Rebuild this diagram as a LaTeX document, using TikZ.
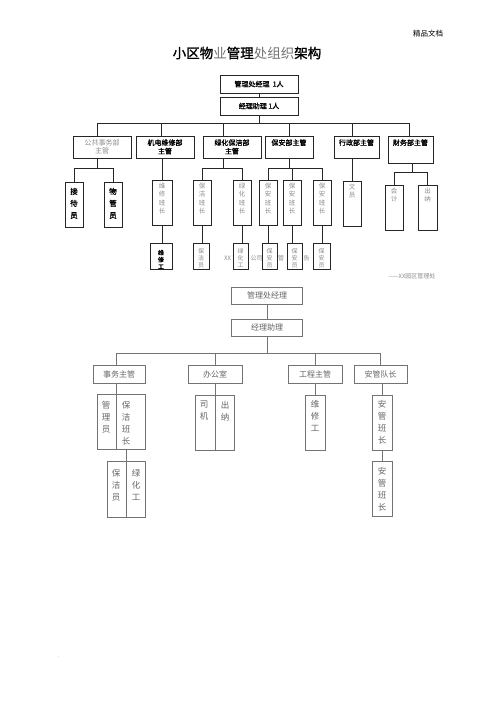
\documentclass[tikz,border=0pt]{standalone}
\usepackage{fontspec}
\newfontfamily\cjk{Noto Sans CJK SC}
\newfontfamily\cjkb[FakeBold=1.3]{Noto Sans CJK SC}
\begin{document}
\begin{tikzpicture}[x=1pt,y=-1pt,
  tb/.style={draw=black!85, line width=0.6pt, fill=white, inner sep=0pt, align=center, font=\fontsize{7}{8.5}\selectfont\cjkb},
  tv/.style={draw=black!85, line width=0.6pt, fill=white, inner sep=0pt},
  l2b/.style={anchor=north, yshift=-3.5pt, inner sep=0pt, align=center, font=\fontsize{7}{8.5}\selectfont\cjkb},
  l2g/.style={l2b, font=\fontsize{7}{8.5}\selectfont\cjk, text=black!45},
  vg/.style={anchor=north, yshift=-3pt, inner sep=0pt, align=center, font=\fontsize{6.5}{8.5}\selectfont\cjk, text=black!45},
  vgs/.style={vg, yshift=-3pt, font=\fontsize{6}{7}\selectfont\cjk},
  vb/.style={anchor=north, yshift=-6pt, inner sep=0pt, align=center, font=\fontsize{7.5}{12}\selectfont\cjkb},
  vbs/.style={vb, yshift=-1pt, font=\fontsize{6}{7}\selectfont\cjkb},
  tl/.style={draw=black!85, line width=0.6pt},
  bb/.style={draw=black!55, line width=0.8pt, fill=white, inner sep=0pt, font=\fontsize{8}{10}\selectfont\cjk, text=black!60},
  bv/.style={draw=black!55, line width=0.8pt, fill=white, inner sep=0pt},
  bl/.style={draw=black!55, line width=0.8pt},
  bt/.style={anchor=north, inner sep=0pt, align=center, font=\fontsize{8.5}{12}\selectfont\cjk, text=black!60},
  btl/.style={bt, yshift=-6pt},
  small/.style={inner sep=0pt, font=\fontsize{6}{7}\selectfont\cjk, text=black!45}]
\useasboundingbox[fill=white] (0,0) rectangle (500,707);

% header
\node[inner sep=0pt, font=\fontsize{7.5}{9}\selectfont\cjk] (hdr) at (428,34) {精品文档};
\node[inner sep=0pt, font=\fontsize{13.5}{16}\selectfont\cjkb] (title) at (247,53)
  {小区物{\cjk\color{black!55}业}管理{\cjk\color{black!55}处组织}架构};

% ================= top chart =================
\node[small] (st1) at (227.5,258) {XX};
\node[small] (st2) at (256.5,258) {公司};
\node[small] (st3) at (281,258) {管};
\node[small] (st4) at (306.5,258) {告};
\node[small] (cap) at (412,276) {——XX园区管理处};

\node[tb, minimum width=78pt, minimum height=18pt] (m1) at (259,84) {管理处经理\ \ 1人};
\node[tb, minimum width=78pt, minimum height=18pt] (m2) at (259,106) {经理助理 1人};

\node[tv, minimum width=58pt, minimum height=22pt, label={[l2g]north:{公共事务部\\主管}}] (d1) at (102,147) {};
\node[tv, minimum width=58pt, minimum height=22pt, label={[l2b]north:{机电维修部\\主管}}] (d2) at (165,147) {};
\node[tv, minimum width=58pt, minimum height=22pt, label={[l2b]north:{绿化保洁部\\主管}}] (d3) at (232,147) {};
\node[tv, minimum width=48pt, minimum height=22pt, label={[l2b]north:{保安部主管}}] (d4) at (289,147) {};
\node[tv, minimum width=45pt, minimum height=22pt, label={[l2b]north:{行政部主管}}] (d5) at (356.5,147) {};
\node[tv, minimum width=45pt, minimum height=27pt, label={[l2b]north:{财务部主管}}] (d6) at (410.5,149.5) {};

\node[tv, minimum width=18pt, minimum height=45pt, label={[vb]north:{接\\待\\员}}] (e1) at (74,204.5) {};
\node[tv, minimum width=18pt, minimum height=45pt, label={[vb]north:{物\\管\\员}}] (e2) at (113,204.5) {};
\node[tv, minimum width=20pt, minimum height=45pt, label={[vg]north:{维\\修\\班\\长}}] (e3) at (162,202.5) {};
\node[tv, minimum width=18pt, minimum height=45pt, label={[vg]north:{保\\洁\\班\\长}}] (e4) at (202,202.5) {};
\node[tv, minimum width=18pt, minimum height=45pt, label={[vg]north:{绿\\化\\班\\长}}] (e5) at (242,202.5) {};
\node[tv, minimum width=18pt, minimum height=45pt, label={[vg]north:{保\\安\\班\\长}}] (e6) at (268,202.5) {};
\node[tv, minimum width=18pt, minimum height=45pt, label={[vg]north:{保\\安\\班\\长}}] (e7) at (292,202.5) {};
\node[tv, minimum width=18pt, minimum height=45pt, label={[vg]north:{保\\安\\班\\长}}] (e8) at (322,202.5) {};
\node[tv, minimum width=18pt, minimum height=45pt, label={[vg]north:{文\\员}}] (e9) at (352,203.5) {};
\node[tv, minimum width=18pt, minimum height=45pt, label={[vg]north:{会\\计}}] (e10) at (394,207.5) {};
\node[tv, minimum width=19pt, minimum height=45pt, label={[vg]north:{出\\纳}}] (e11) at (427.5,207.5) {};

\node[tv, minimum width=22pt, minimum height=26pt, label={[vbs]north:{维\\修\\工}}] (f1) at (161,256) {};
\node[tv, minimum width=16pt, minimum height=26pt, label={[vgs]north:{保\\洁\\员}}] (f2) at (201,256) {};
\node[tv, minimum width=15pt, minimum height=26pt, label={[vgs]north:{绿\\化\\工}}] (f3) at (240.5,256) {};
\node[tv, minimum width=15pt, minimum height=26pt, label={[vgs]north:{保\\安\\员}}] (f4) at (269.5,256) {};
\node[tv, minimum width=15pt, minimum height=26pt, label={[vgs]north:{保\\安\\员}}] (f5) at (294.5,256) {};
\node[tv, minimum width=17pt, minimum height=26pt, label={[vgs]north:{保\\安\\员}}] (f6) at (321.5,256) {};

\coordinate (bL) at (97,123);
\coordinate (bR) at (409,123);
\coordinate (j2) at (161,123);
\coordinate (j3) at (223,123);
\coordinate (k1) at (97,168);
\coordinate (k3) at (223,168);
\coordinate (k4) at (289,168);
\coordinate (k6) at (412,172);

\draw[tl] (m1.south) -- (m2.north);
\draw[tl] (m2.south) -- (m2.south |- bL);
\draw[tl] (bL) -- (bR);
\draw[tl] (bL) -- (bL |- d1.north);
\draw[tl] (j2) -- (j2 |- d2.north);
\draw[tl] (j3) -- (j3 |- d3.north);
\draw[tl] (d4.north |- bL) -- (d4.north);
\draw[tl] (e9.north |- bL) -- (e9.north |- d5.north);
\draw[tl] (bR) -- (bR |- d6.north);

\draw[tl] (k1 |- d1.south) -- (k1);
\draw[tl] (e1.north |- k1) -- (e2.north |- k1);
\draw[tl] (e1.north |- k1) -- (e1.north);
\draw[tl] (e2.north |- k1) -- (e2.north);

\draw[tl] (e3.north |- d2.south) -- (e3.north);
\draw[tl] (e3.south) -- (e3.south |- f1.north);

\draw[tl] (k3 |- d3.south) -- (k3);
\draw[tl] (e4.north |- k3) -- (e5.north |- k3);
\draw[tl] (e4.north |- k3) -- (e4.north);
\draw[tl] (e5.north |- k3) -- (e5.north);
\draw[tl] (e4.south) -- (e4.south |- f2.north);
\draw[tl] (e5.south) -- (e5.south |- f3.north);

\draw[tl] (d4.south) -- (k4);
\draw[tl] (e6.north |- k4) -- (e8.north |- k4);
\draw[tl] (e6.north |- k4) -- (e6.north);
\draw[tl] (e7.north |- k4) -- (e7.north);
\draw[tl] (e8.north |- k4) -- (e8.north);
\draw[tl] (e6.south) -- (e6.south |- f4.north);
\draw[tl] (e7.south) -- (e7.south |- f5.north);
\draw[tl] (e8.south) -- (e8.south |- f6.north);

\draw[tl] (e9.north |- d5.south) -- (e9.north);

\draw[tl] (k6 |- d6.south) -- (k6);
\draw[tl] (e10.north |- k6) -- (e11.north |- k6);
\draw[tl] (e10.north |- k6) -- (e10.north);
\draw[tl] (e11.north |- k6) -- (e11.north);

% ================= bottom chart =================
\node[bb, minimum width=71pt, minimum height=17pt] (n1) at (267,295.5) {管理处经理};
\node[bb, minimum width=71pt, minimum height=17pt] (n2) at (267,327.5) {经理助理};

\node[bb, minimum width=52pt, minimum height=18pt] (g1) at (119,374) {事务主管};
\node[bb, minimum width=54pt, minimum height=18pt] (g2) at (215,374) {办公室};
\node[bb, minimum width=54pt, minimum height=18pt] (g3) at (315,374) {工程主管};
\node[bb, minimum width=53pt, minimum height=18pt] (g4) at (380.5,374) {安管队长};

\node[bv, minimum width=48pt, minimum height=55pt] (s1) at (121,421.5) {};
\node[bv, minimum width=38pt, minimum height=56pt] (s2) at (126,489) {};
\node[bv, minimum width=39pt, minimum height=55pt] (s3) at (214.5,422.5) {};
\node[bv, minimum width=20pt, minimum height=55pt, label={[btl]north:{维\\修\\工}}] (h1) at (315,422.5) {};
\node[bv, minimum width=20pt, minimum height=55pt, label={[btl]north:{安\\管\\班\\长}}] (h2) at (382,422.5) {};
\node[bv, minimum width=20pt, minimum height=55pt, label={[btl]north:{安\\管\\班\\长}}] (h3) at (382,489) {};

\node[bt] (s1a) at (106,401) {管\\理\\员};
\node[bt] (s1b) at (126,401) {保\\洁\\班\\长};
\node[bt] (s2a) at (116,469) {保\\洁\\员};
\node[bt] (s2b) at (136,469) {绿\\化\\工};
\node[bt] (s3a) at (204,401) {司\\机};
\node[bt] (s3b) at (225,401) {出\\纳};

\coordinate (cL) at (116,353);
\coordinate (cR) at (380,353);

\draw[bl] (n1.south) -- (n2.north);
\draw[bl] (n2.south) -- (n2.south |- cL);
\draw[bl] (cL) -- (cR);
\draw[bl] (cL) -- (cL |- g1.north);
\draw[bl] (g2.north |- cL) -- (g2.north);
\draw[bl] (g3.north |- cL) -- (g3.north);
\draw[bl] (cR) -- (cR |- g4.north);

\draw[bl] (cL |- g1.south) -- (cL |- s1.south);
\draw[bl] (s1b.north |- s1.south) -- (s1b.north |- s2.south);
\draw[bl] (g2.south) -- (g2.south |- s3.south);
\draw[bl] (g3.south) -- (h1.north);
\draw[bl] (h2.north |- g4.south) -- (h2.north);
\draw[bl] (h2.south) -- (h3.north);

\node[inner sep=0pt, font=\fontsize{5}{6}\selectfont, text=black!60] (dot) at (59,657) {.};
\end{tikzpicture}
\end{document}
